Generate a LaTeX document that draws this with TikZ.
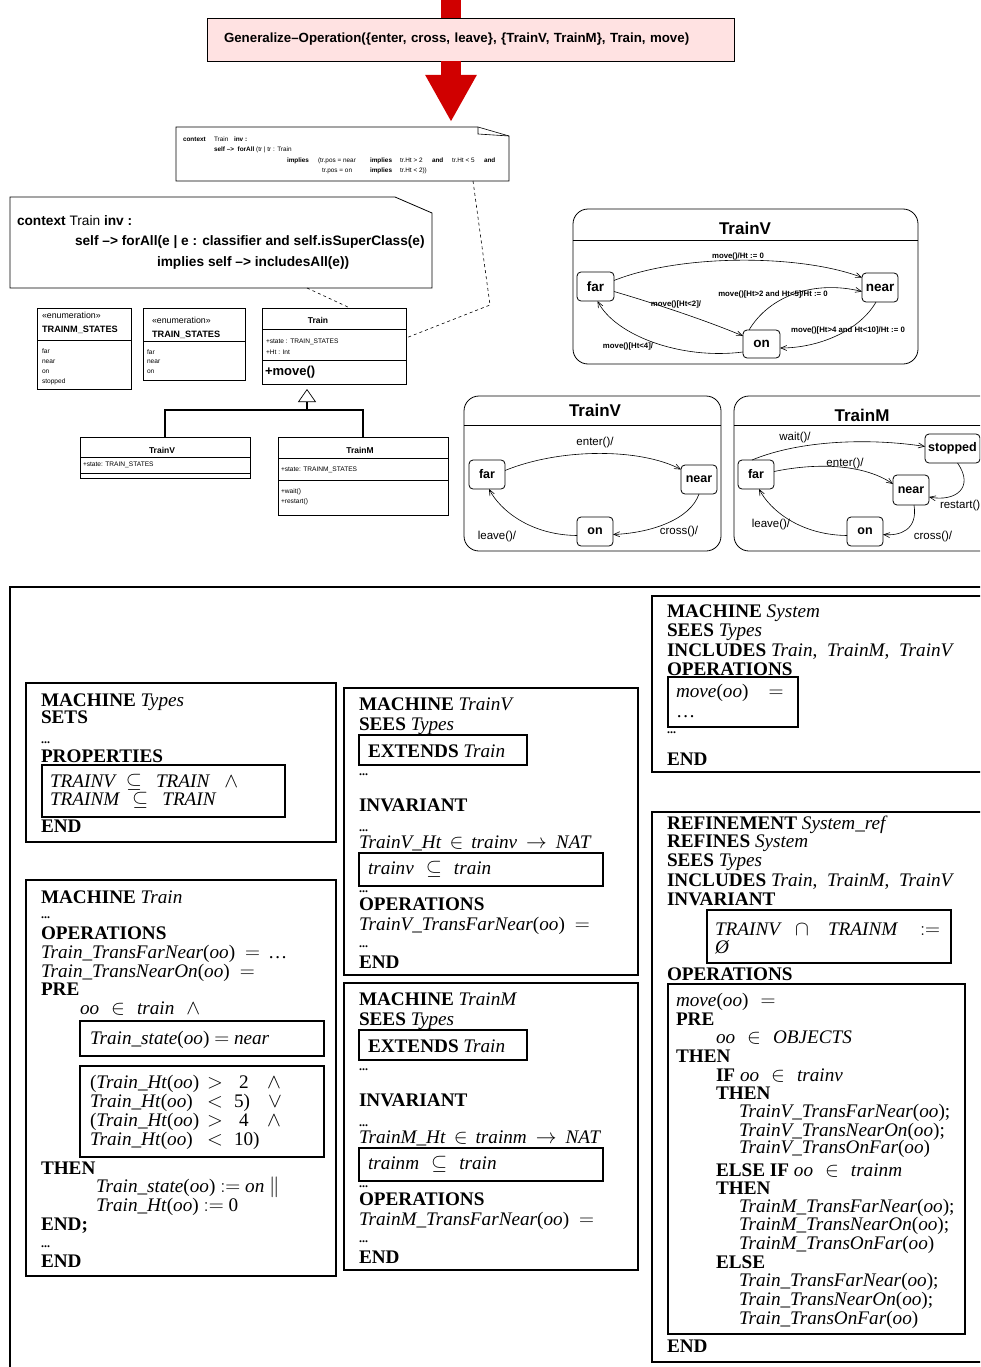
\documentclass[tikz,border=0pt]{standalone}
\usepackage{fontspec}
\setmainfont{Liberation Serif}
\setsansfont{Liberation Sans}
\usetikzlibrary{arrows.meta,calc}
\definecolor{redA}{RGB}{208,0,0}
\definecolor{pinkA}{RGB}{255,226,226}
\newcommand\kw[1]{\textbf{#1}}
\newcommand\ident[1]{\textit{#1}}
\newcommand\fn[1]{\textit{#1}(\textit{oo})}
\begin{document}
\begin{tikzpicture}[x=1pt,y=-1pt,
  every node/.style={inner sep=0pt,outer sep=0pt},
  B/.style={anchor=base west,font=\fontsize{19.2}{19}\selectfont,text height=12pt,text depth=3pt},
  D/.style={anchor=base west,font=\fontsize{12}{12}\selectfont\bfseries,text height=3pt,text depth=0pt},
  frm/.style={draw,line width=1.4pt},
  ibx/.style={draw,line width=2pt},
  uml/.style={draw,line width=0.7pt},
  us/.style={anchor=west,font=\sffamily\fontsize{8.8}{9}\selectfont},
  ui/.style={anchor=west,font=\sffamily\fontsize{6.6}{7}\selectfont},
  ub/.style={font=\sffamily\bfseries\fontsize{8.5}{8.5}\selectfont},
  ue/.style={anchor=west,font=\sffamily\bfseries\fontsize{9.2}{9.2}\selectfont},
  nt/.style={anchor=base west,font=\sffamily\fontsize{6.4}{7}\selectfont},
  bn/.style={anchor=base west,font=\sffamily\fontsize{13.7}{14}\selectfont},
  st1/.style={draw,line width=0.8pt,rounded corners=4pt,minimum width=37pt,minimum height=29pt,font=\sffamily\bfseries\fontsize{13.5}{13.5}\selectfont},
  st2/.style={draw,line width=0.8pt,rounded corners=4pt,minimum width=36pt,minimum height=29pt,font=\sffamily\bfseries\fontsize{12.5}{12.5}\selectfont},
  cont/.style={draw,line width=0.8pt,rounded corners=15pt,anchor=north west},
  ttl/.style={font=\sffamily\bfseries\fontsize{17}{17}\selectfont},
  lb/.style={font=\sffamily\bfseries\fontsize{7.8}{7.8}\selectfont},
  ll/.style={font=\sffamily\fontsize{11.5}{11.5}\selectfont},
  tr/.style={line width=0.6pt,-{Straight Barb[length=6pt,width=5pt]}},
  dsh/.style={line width=0.6pt,dash pattern=on 3pt off 3pt}]
\useasboundingbox (0,0) rectangle (980,1367);
\clip (0,0) rectangle (980,1367);

% ---------- generalize box and red arrow ----------
\node[draw,line width=0.7pt,fill=pinkA,anchor=north west,minimum height=43pt,text width=493pt,inner xsep=17pt,align=left,
  font=\sffamily\bfseries\fontsize{13.3}{14}\selectfont] (gen) at (207,18)
  {Generalize\textendash Operation(\{enter, cross, leave\}, \{TrainV, TrainM\}, Train, move)};
\coordinate (rtop) at (451,0);
\coordinate (rtip) at (451,122);
\draw[redA,line width=20pt] (rtop) -- (rtop |- gen.north);
\draw[redA,line width=20pt,-{Triangle[length=47pt,width=48pt]}] (rtop |- gen.south) -- (rtip);

% ---------- small OCL note ----------
\draw[line width=0.6pt] (176,127) -- (478,127) -- (509,136) -- (509,181) -- (176,181) -- cycle;
\draw[line width=0.6pt] (478,127) -- (478,134) -- (509,136);
\node[nt] (c1) at (183,142) {\makebox[31pt][l]{\textbf{context}}\makebox[20pt][l]{Train}\textbf{inv :}};
\node[nt] (c2) at (214,152) {\textbf{self \textendash>\ \ forAll} (tr | tr : Train};
\node[nt] (c3) at (287,163) {\makebox[31pt][l]{\textbf{implies}}\makebox[52pt][l]{(tr.pos = near}\makebox[30pt][l]{\textbf{implies}}\makebox[32pt][l]{tr.Ht > 2}\makebox[20pt][l]{\textbf{and}}\makebox[32pt][l]{tr.Ht < 5}\textbf{and}};
\node[nt] (c4) at (322,173) {\makebox[48pt][l]{tr.pos = on}\makebox[30pt][l]{\textbf{implies}}tr.Ht < 2))};

% ---------- big OCL note ----------
\draw[line width=0.8pt] (10,197) -- (395,197) -- (432,213) -- (432,288) -- (10,288) -- cycle;
\node[bn] (d1) at (17,225) {\textbf{context} Train \textbf{inv :}};
\node[bn] (d2) at (75,245) {\textbf{self \textendash> forAll(e | e : classifier and self.isSuperClass(e)}};
\node[bn] (d3) at (157,266) {\textbf{implies self \textendash> includesAll(e))}};

% ---------- UML classes ----------
\node[uml,anchor=north west,minimum width=94pt,minimum height=81pt] (enM) at (37,308) {};
\node[us] (enMs) at (42,315) {«enumeration»};
\node[ue] (enMn) at (42,330) {TRAINM\_STATES};
\draw[uml] (37,340) -- (131,340);
\node[ui] (enM1) at (42,351) {far};
\node[ui] (enM2) at (42,362) {near};
\node[ui] (enM3) at (42,372) {on};
\node[ui] (enM4) at (42,382) {stopped};

\node[uml,anchor=north west,minimum width=102pt,minimum height=72pt] (enT) at (143,308) {};
\node[us] (enTs) at (152,320) {«enumeration»};
\node[ue] (enTn) at (152,335) {TRAIN\_STATES};
\draw[uml] (143,341) -- (245,341);
\node[ui] (enT1) at (147,352) {far};
\node[ui] (enT2) at (147,362) {near};
\node[ui] (enT3) at (147,372) {on};

\node[uml,anchor=north west,minimum width=144pt,minimum height=76pt] (trc) at (262,308) {};
\node[ub] (trcn) at (318,320) {Train};
\draw[uml] (262,329) -- (406,329);
\node[ui] (trc1) at (266,342) {+state : TRAIN\_STATES};
\node[ui] (trc2) at (266,352) {+Ht : Int};
\draw[uml] (262,360) -- (406,360);
\node[anchor=west,font=\sffamily\bfseries\fontsize{13}{13}\selectfont] (trc3) at (265,372) {+move()};

\node[uml,anchor=north west,minimum width=170pt,minimum height=41pt] (tvc) at (80,437) {};
\node[ub] (tvcn) at (162,450) {TrainV};
\draw[uml] (80,457) -- (250,457);
\node[ui] (tvc1) at (83,465) {+state: TRAIN\_STATES};
\draw[uml] (80,473) -- (250,473);

\node[uml,anchor=north west,minimum width=170pt,minimum height=78pt] (tmc) at (278,437) {};
\node[ub] (tmcn) at (360,450) {TrainM};
\draw[uml] (278,458) -- (448,458);
\node[ui] (tmc1) at (281,470) {+state: TRAINM\_STATES};
\draw[uml] (278,480) -- (448,480);
\node[ui] (tmc2) at (281,492) {+wait()};
\node[ui] (tmc3) at (281,502) {+restart()};

% generalization
\coordinate (bar) at (307,410);
\coordinate (apex) at ($(bar |- trc.south)+(0,5)$);
\draw[line width=2pt] (tvc.north) |- (bar);
\draw[line width=2pt] (tmc.north) |- (bar) -- ++(0,-8);
\draw[line width=0.7pt,-{Triangle[open,length=13pt,width=18pt]}] ($(bar)+(0,-8)$) -- (apex);

% dashed note links
\coordinate (n2b) at (307,288);
\coordinate (n1b) at (473,181);
\coordinate (kink) at (490,305);
\draw[dsh] (n2b) -- ($(trc.north west)+(88,0)$);
\draw[dsh] (n1b) -- (kink) -- ($(trc.east)+(0,-8)$);

% ---------- state machine TrainV (move) ----------
\node[cont,minimum width=345pt,minimum height=155pt] (smA) at (573,209) {};
\node[ttl] (smAt) at (745,228) {TrainV};
\draw[line width=0.8pt] (573,240) -- (918,240);
\node[st1] (farA) at (595.5,286.5) {far};
\node[st1,minimum width=36pt] (nearA) at (880,287.5) {near};
\node[st1,minimum height=28pt] (onA) at (761.5,344) {on};
\draw[tr] ($(farA.east)+(0,-6)$) .. controls (680,254) and (800,254) .. ($(nearA.west)+(0,-10)$);
\node[lb] (lA1) at (738,256) {move()/Ht := 0};
\draw[tr] ($(farA.east)+(0,5)$) .. controls (660,305) and (710,322) .. ($(onA.west)+(0,-8)$);
\node[lb] (lA2) at (676,304) {move()[Ht<2]/};
\draw[tr] ($(onA.north west)+(6,0)$) .. controls (770,295) and (815,280) .. ($(nearA.west)+(0,4)$);
\node[lb] (lA3) at (773,294) {move()[Ht>2 and Ht<5]/Ht := 0};
\draw[tr] ($(nearA.south)+(-4,0)$) .. controls (860,330) and (820,348) .. ($(onA.east)+(0,4)$);
\node[lb] (lA4) at (848,330) {move()[Ht>4 and Ht<10]/Ht := 0};
\draw[tr] ($(onA.west)+(0,8)$) .. controls (680,360) and (615,335) .. ($(farA.south)+(2,0)$);
\node[lb] (lA5) at (628,346) {move()[Ht<4]/};

% ---------- state machine TrainV ----------
\node[cont,minimum width=257pt,minimum height=155pt] (smB) at (464,396) {};
\node[ttl] (smBt) at (595,410) {TrainV};
\draw[line width=0.8pt] (464,425) -- (721,425);
\node[st2] (farB) at (487,474.5) {far};
\node[st2] (nearB) at (699,479.5) {near};
\node[st2] (onB) at (595,531.5) {on};
\draw[tr] ($(farB.east)+(0,-4)$) .. controls (560,448) and (640,448) .. ($(nearB.west)+(0,-10)$);
\node[ll] (lB1) at (595,443) {enter()/};
\draw[tr] (nearB.south) .. controls (690,520) and (650,533) .. ($(onB.east)+(0,3)$);
\node[ll] (lB2) at (679,532) {cross()/};
\draw[tr] ($(onB.west)+(0,4)$) .. controls (530,535) and (500,510) .. ($(farB.south)+(2,0)$);
\node[ll] (lB3) at (497,537) {leave()/};

% ---------- state machine TrainM ----------
\node[cont,minimum width=262pt,minimum height=155pt] (smC) at (734,396) {};
\node[ttl] (smCt) at (862,415) {TrainM};
\draw[line width=0.8pt] (734,425) -- (996,425);
\node[st2] (farC) at (756,474.5) {far};
\node[st2,minimum height=30pt] (nearC) at (911,490) {near};
\node[st2] (onC) at (865,531.5) {on};
\node[st2,minimum width=55pt] (stopC) at (952.5,448.5) {stopped};
\draw[tr] ($(farC.north)+(-4,0)$) .. controls (800,440) and (870,438) .. ($(stopC.west)+(0,-2)$);
\node[ll] (lC1) at (795,438) {wait()/};
\draw[tr] ($(farC.east)+(0,-3)$) .. controls (820,462) and (865,465) .. ($(nearC.west)+(0,-6)$);
\node[ll] (lC2) at (845,464) {enter()/};
\draw[tr] ($(stopC.south)+(5,0)$) .. controls (975,488) and (955,502) .. ($(nearC.east)+(0,7)$);
\node[ll,anchor=west] (lC3) at (940,506) {restart()};
\draw[tr] ($(nearC.south)+(3,0)$) .. controls (918,530) and (900,536) .. ($(onC.east)+(0,3)$);
\node[ll] (lC4) at (933,537) {cross()/};
\draw[tr] ($(onC.west)+(0,4)$) .. controls (800,535) and (770,510) .. ($(farC.south)+(3,0)$);
\node[ll] (lC5) at (771,525) {leave()/};

% ---------- B machines ----------
\draw[line width=1.4pt] (10,1375) -- (10,587) -- (990,587);

% Types
\draw[frm] (26,683) rectangle (336,842);
\node[B] (ty1) at (41,706) {\kw{MACHINE} \ident{Types}};
\node[B] (ty2) at (41,723) {\kw{SETS}};
\node[D] (ty3) at (41,743) {...};
\node[B] (ty4) at (41,762) {\kw{PROPERTIES}};
\draw[ibx] (42,765) rectangle (285,817);
\node[B] (ty5) at (50,787) {\ident{TRAINV}\hspace{9pt}$\subseteq$\hspace{14pt}\ident{TRAIN}\hspace{14pt}$\wedge$};
\node[B] (ty6) at (50,805) {\ident{TRAINM}\hspace{12pt}$\subseteq$\hspace{14pt}\ident{TRAIN}};
\node[B] (ty7) at (41,832) {\kw{END}};

% Train
\draw[frm] (26,880) rectangle (336,1276);
\node[B] (tn1) at (41,903) {\kw{MACHINE} \ident{Train}};
\node[D] (tn2) at (41,918) {...};
\node[B] (tn3) at (41,939) {\kw{OPERATIONS}};
\node[B] (tn4) at (41,958) {\fn{Train\_TransFarNear}\hspace{10pt}$=$\hspace{8pt}\ldots};
\node[B] (tn5) at (41,977) {\fn{Train\_TransNearOn}\hspace{10pt}$=$};
\node[B] (tn6) at (41,995) {\kw{PRE}};
\node[B] (tn7) at (80,1014) {\ident{oo}\hspace{12pt}$\in$\hspace{12pt}\ident{train}\hspace{12pt}$\wedge$};
\draw[ibx] (80,1021) rectangle (324,1056);
\node[B] (tn8) at (90,1044) {\fn{Train\_state}\ $=$\ \ident{near}};
\draw[ibx] (80,1066) rectangle (324,1157);
\node[B] (tn9) at (90,1088) {\makebox[117pt][l]{(\fn{Train\_Ht}}\makebox[32pt][l]{$>$}\makebox[28pt][l]{2}$\wedge$};
\node[B] (tn10) at (90,1107) {\makebox[117pt][l]{\fn{Train\_Ht}}\makebox[27pt][l]{$<$}\makebox[34pt][l]{5)}$\vee$};
\node[B] (tn11) at (90,1126) {\makebox[117pt][l]{(\fn{Train\_Ht}}\makebox[32pt][l]{$>$}\makebox[28pt][l]{4}$\wedge$};
\node[B] (tn12) at (90,1145) {\makebox[117pt][l]{\fn{Train\_Ht}}\makebox[27pt][l]{$<$}10)};
\node[B] (tn13) at (41,1174) {\kw{THEN}};
\node[B] (tn14) at (96,1192) {\fn{Train\_state}\ $:=$\ \ident{on}\ $\|$};
\node[B] (tn15) at (96,1211) {\fn{Train\_Ht}\ $:=$\ 0};
\node[B] (tn16) at (41,1230) {\kw{END;}};
\node[D] (tn17) at (41,1247) {...};
\node[B] (tn18) at (41,1267) {\kw{END}};

% TrainV
\draw[frm] (344,688) rectangle (638,975);
\node[B] (v1) at (359,710) {\kw{MACHINE} \ident{TrainV}};
\node[B] (v2) at (359,730) {\kw{SEES} \ident{Types}};
\draw[ibx] (359,735) rectangle (527,765);
\node[B] (v3) at (368,757) {\kw{EXTENDS} \ident{Train}};
\node[D] (v4) at (359,775) {...};
\node[B] (v5) at (359,811) {\kw{INVARIANT}};
\node[D] (v6) at (359,831) {...};
\node[B] (v7) at (359,848) {\ident{TrainV\_Ht}\hspace{8pt}$\in$\hspace{8pt}\ident{trainv}\hspace{9pt}$\rightarrow$\hspace{9pt}\ident{NAT}};
\draw[ibx] (359,853) rectangle (603,886);
\node[B] (v8) at (368,874) {\ident{trainv}\hspace{12pt}$\subseteq$\hspace{12pt}\ident{train}};
\node[D] (v9) at (359,892) {...};
\node[B] (v10) at (359,910) {\kw{OPERATIONS}};
\node[B] (v11) at (359,930) {\fn{TrainV\_TransFarNear}\hspace{10pt}$=$};
\node[D] (v12) at (359,947) {...};
\node[B] (v13) at (359,968) {\kw{END}};

% TrainM
\draw[frm] (344,983) rectangle (638,1270);
\node[B] (m1) at (359,1005) {\kw{MACHINE} \ident{TrainM}};
\node[B] (m2) at (359,1025) {\kw{SEES} \ident{Types}};
\draw[ibx] (359,1030) rectangle (527,1060);
\node[B] (m3) at (368,1052) {\kw{EXTENDS} \ident{Train}};
\node[D] (m4) at (359,1070) {...};
\node[B] (m5) at (359,1106) {\kw{INVARIANT}};
\node[D] (m6) at (359,1126) {...};
\node[B] (m7) at (359,1143) {\ident{TrainM\_Ht}\hspace{8pt}$\in$\hspace{8pt}\ident{trainm}\hspace{9pt}$\rightarrow$\hspace{9pt}\ident{NAT}};
\draw[ibx] (359,1148) rectangle (603,1181);
\node[B] (m8) at (368,1169) {\ident{trainm}\hspace{12pt}$\subseteq$\hspace{12pt}\ident{train}};
\node[D] (m9) at (359,1187) {...};
\node[B] (m10) at (359,1205) {\kw{OPERATIONS}};
\node[B] (m11) at (359,1225) {\fn{TrainM\_TransFarNear}\hspace{10pt}$=$};
\node[D] (m12) at (359,1242) {...};
\node[B] (m13) at (359,1263) {\kw{END}};

% System
\draw[frm] (652,596) rectangle (995,772);
\node[B] (s1) at (667,617) {\kw{MACHINE} \ident{System}};
\node[B] (s2) at (667,636) {\kw{SEES} \ident{Types}};
\node[B] (s3) at (667,656) {\kw{INCLUDES} \ident{Train},\ \ \ident{TrainM},\ \ \ident{TrainV}};
\node[B] (s4) at (667,675) {\kw{OPERATIONS}};
\draw[ibx] (668,677) rectangle (798,727);
\node[B] (s5) at (676,697) {\fn{move}\hspace{20pt}$=$};
\node[B] (s6) at (676,717) {\ldots};
\node[D] (s7) at (667,733) {...};
\node[B] (s8) at (667,765) {\kw{END}};

% Refinement
\draw[frm] (652,812) rectangle (995,1362);
\node[B] (r1) at (667,829) {\kw{REFINEMENT} \ident{System\_ref}};
\node[B] (r2) at (667,847) {\kw{REFINES} \ident{System}};
\node[B] (r3) at (667,866) {\kw{SEES} \ident{Types}};
\node[B] (r4) at (667,886) {\kw{INCLUDES} \ident{Train},\ \ \ident{TrainM},\ \ \ident{TrainV}};
\node[B] (r5) at (667,905) {\kw{INVARIANT}};
\draw[ibx] (707,910) rectangle (951,963);
\node[B] (r6) at (715,935) {\makebox[80pt][l]{\ident{TRAINV}}\makebox[33pt][l]{$\cap$}\makebox[92pt][l]{\ident{TRAINM}}$:=$};
\node[B] (r7) at (715,953) {\ident{Ø}};
\node[B] (r8) at (667,980) {\kw{OPERATIONS}};
\draw[ibx] (668,984) rectangle (965,1334);
\node[B] (r9) at (676,1006) {\fn{move}\hspace{12pt}$=$};
\node[B] (r10) at (676,1025) {\kw{PRE}};
\node[B] (r11) at (716,1043) {\ident{oo}\hspace{12pt}$\in$\hspace{12pt}\ident{OBJECTS}};
\node[B] (r12) at (676,1062) {\kw{THEN}};
\node[B] (r13) at (716,1081) {\kw{IF} \ident{oo}\hspace{12pt}$\in$\hspace{12pt}\ident{trainv}};
\node[B] (r14) at (716,1099) {\kw{THEN}};
\node[B] (r15) at (739,1117) {\fn{TrainV\_TransFarNear};};
\node[B] (r16) at (739,1136) {\fn{TrainV\_TransNearOn};};
\node[B] (r17) at (739,1153) {\fn{TrainV\_TransOnFar}};
\node[B] (r18) at (716,1176) {\kw{ELSE IF} \ident{oo}\hspace{12pt}$\in$\hspace{12pt}\ident{trainm}};
\node[B] (r19) at (716,1194) {\kw{THEN}};
\node[B] (r20) at (739,1212) {\fn{TrainM\_TransFarNear};};
\node[B] (r21) at (739,1230) {\fn{TrainM\_TransNearOn};};
\node[B] (r22) at (739,1249) {\fn{TrainM\_TransOnFar}};
\node[B] (r23) at (716,1268) {\kw{ELSE}};
\node[B] (r24) at (739,1286) {\fn{Train\_TransFarNear};};
\node[B] (r25) at (739,1305) {\fn{Train\_TransNearOn};};
\node[B] (r26) at (739,1324) {\fn{Train\_TransOnFar}};
\node[B] (r27) at (667,1352) {\kw{END}};
\end{tikzpicture}
\end{document}
